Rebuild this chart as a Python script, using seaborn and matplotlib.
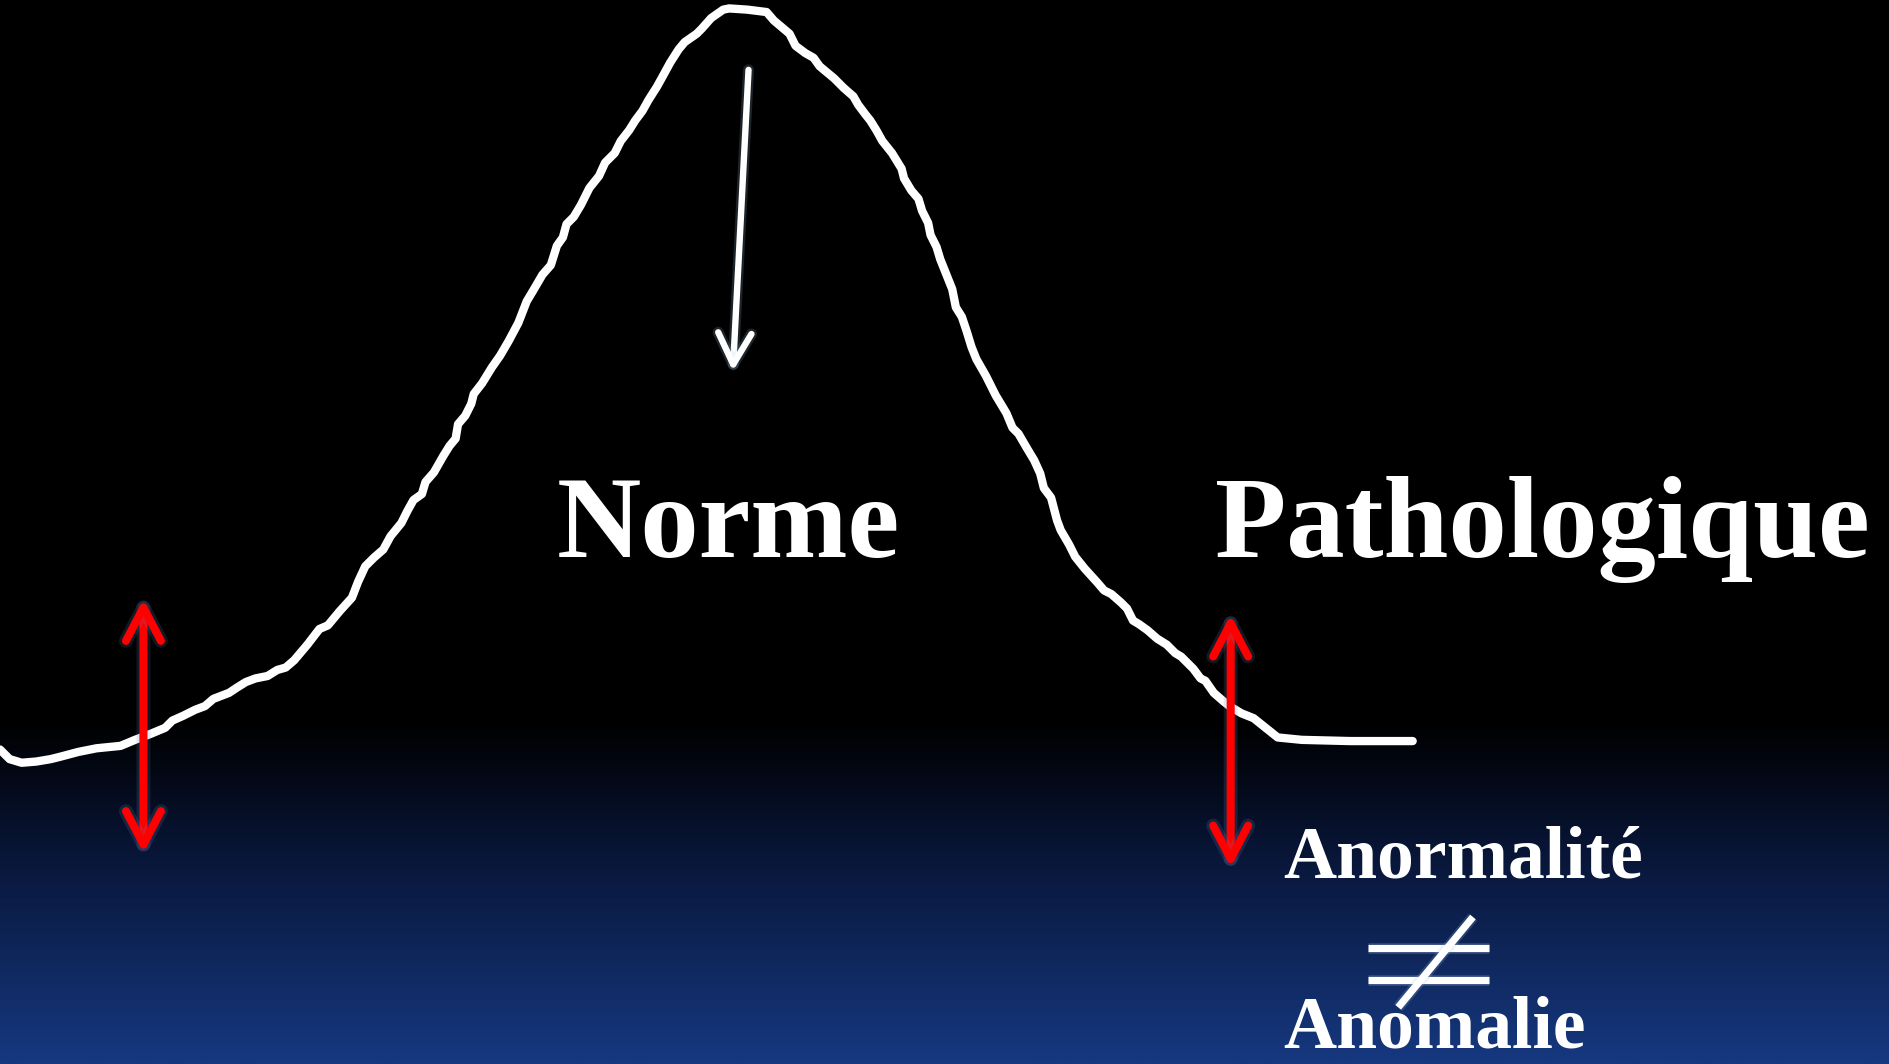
import numpy as np
import matplotlib
matplotlib.use("Agg")
import matplotlib.pyplot as plt
import seaborn as sns
from matplotlib.colors import LinearSegmentedColormap
import matplotlib.patheffects as pe

# Hand-drawn distribution curve (x to the right, y measured downward from the top)
curve_x = [0, 2, 8, 18, 30, 42, 50, 65, 80, 100, 112, 125, 137, 143, 152, 162, 170, 177,
           190, 196, 204, 212, 222, 230, 237, 244, 255, 265, 272, 282, 292, 297, 303, 310,
           318, 324, 333, 338, 343, 350, 353, 360, 368, 373, 378, 380, 386, 391, 393, 400,
           408, 415, 422, 430, 437, 443, 450, 457, 462, 467, 470, 476, 482, 489, 497, 502,
           510, 515, 522, 527, 533, 538, 545, 550, 556, 563, 568, 578, 582, 590, 600, 605,
           620, 636, 642, 655, 660, 668, 675, 680, 692, 700, 708, 712, 718, 722, 727, 732,
           740, 748, 750, 756, 762, 765, 770, 772, 777, 780, 786, 790, 793, 798, 802, 806,
           810, 818, 826, 835, 840, 845, 852, 858, 863, 866, 872, 877, 880, 887, 892, 900,
           910, 916, 922, 930, 935, 940, 945, 952, 960, 968, 975, 980, 985, 990, 996, 1000,
           1007, 1015, 1020, 1030, 1040, 1050, 1060, 1080, 1120, 1172]
curve_y = [622, 624, 630, 633, 632, 630, 628, 624, 621, 619, 614, 609, 604, 598, 594, 589, 586, 580,
           575, 571, 566, 563, 561, 556, 554, 548, 535, 522, 519, 507, 496, 483, 470, 463,
           456, 445, 434, 424, 415, 410, 400, 392, 378, 370, 364, 352, 345, 335, 327, 318,
           305, 295, 283, 268, 250, 240, 228, 220, 204, 197, 186, 180, 170, 156, 146, 135,
           127, 117, 108, 100, 92, 83, 72, 63, 52, 41, 35, 28, 24, 15, 8, 7,
           8, 10, 17, 28, 38, 44, 48, 55, 65, 73, 80, 87, 95, 100, 108, 117,
           127, 140, 148, 158, 165, 175, 185, 195, 205, 215, 230, 240, 255, 263, 275, 288,
           298, 312, 328, 343, 355, 360, 372, 382, 393, 405, 413, 432, 440, 452, 462, 472,
           483, 490, 493, 500, 505, 515, 518, 523, 530, 535, 542, 545, 550, 555, 563, 565,
           575, 582, 586, 592, 596, 604, 612, 614, 615, 615]

main_labels = ["Norme", "Pathologique"]
sub_labels = ["Anormalité", "Anomalie"]

W, H = 1568, 883

sns.set_theme(style="dark")
plt.rcParams['font.family'] = ['Liberation Serif', 'DejaVu Serif']

fig = plt.figure(figsize=(18.9, 10.64), dpi=100)
ax = fig.add_axes([0, 0, 1, 1])

# background gradient: black on top, navy blue at the bottom
cmap = LinearSegmentedColormap.from_list(
    "bg", [(0.0, "#000000"), (0.68, "#000000"), (0.83, "#0a1a42"), (1.0, "#16387f")])
grad = np.linspace(0, 1, 600)[:, None]
ax.imshow(grad, extent=[0, W, H, 0], cmap=cmap, aspect="auto", origin="upper", zorder=0)

# curve
sns.lineplot(x=curve_x, y=curve_y, sort=False, color="white", linewidth=6.0,
             ax=ax, zorder=3, solid_capstyle="round", solid_joinstyle="round")

glow = [pe.withStroke(linewidth=8, foreground="#9fc3e6", alpha=0.18)]

# white arrow pointing at the peak
ax.annotate("", xy=(608, 308), xytext=(621, 58),
            arrowprops=dict(arrowstyle="->,head_length=1.5,head_width=0.8", color="white",
                            lw=4.6, mutation_scale=15, shrinkA=0, shrinkB=0,
                            capstyle="round", joinstyle="round",
                            path_effects=glow), zorder=4)

# red double arrows
red_glow = [pe.withStroke(linewidth=10, foreground="#5f86b8", alpha=0.18)]
for x0, y_top, y_bot in [(119, 497, 708), (1021, 510, 720)]:
    ax.annotate("", xy=(x0, y_top), xytext=(x0, y_bot),
                arrowprops=dict(arrowstyle="<->,head_length=1.6,head_width=0.84", color="#ff0000",
                                lw=5.8, mutation_scale=15, shrinkA=0, shrinkB=0,
                                capstyle="round", joinstyle="round",
                                path_effects=red_glow), zorder=5)

# labels
ax.text(462, 462, main_labels[0], color="white", fontsize=84, fontweight="bold",
        ha="left", va="baseline", zorder=6)
ax.text(1008, 462, main_labels[1], color="white", fontsize=84, fontweight="bold",
        ha="left", va="baseline", zorder=6)
ax.text(1065, 728, sub_labels[0], color="white", fontsize=53, fontweight="bold",
        ha="left", va="baseline", zorder=6)
ax.text(1065, 869, sub_labels[1], color="white", fontsize=53, fontweight="bold",
        ha="left", va="baseline", zorder=6)

# not-equal sign
ne_glow = [pe.withStroke(linewidth=8, foreground="#9fc3e6", alpha=0.2)]
for yy in (787, 813):
    ax.plot([1135, 1235], [yy, yy], color="white", lw=5.2, solid_capstyle="butt",
            zorder=6, path_effects=ne_glow)
ax.plot([1160, 1222], [836, 761], color="white", lw=5.2, solid_capstyle="butt",
        zorder=7, path_effects=ne_glow)

ax.set_xlim(0, W)
ax.set_ylim(H, 0)
ax.set_axis_off()

fig.savefig("out.png", dpi=100, facecolor="black")
